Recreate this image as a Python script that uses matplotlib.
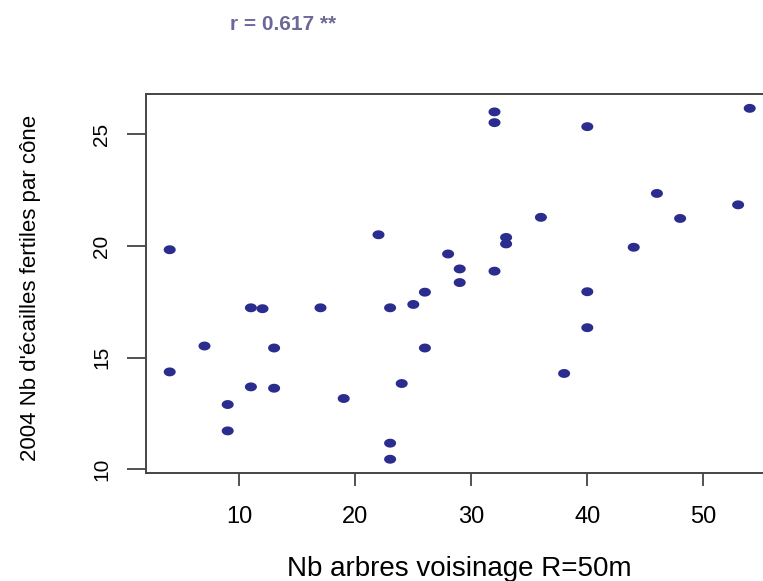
import matplotlib.pyplot as plt
import numpy as np
from matplotlib.path import Path

plt.rcParams['font.family'] = ['Liberation Sans', 'DejaVu Sans']

#%% DATA

nb_arbres = [4, 4, 7, 9, 9, 11, 11, 12, 13, 13, 17, 19, 22, 23, 23, 23, 24, 25, 26,
             26, 28, 29, 29, 32, 32, 32, 33, 33, 36, 38, 40, 40, 40, 44, 46, 48, 53, 54]
nb_ecailles = [19.83, 14.36, 15.52, 12.90, 11.72, 17.23, 13.69, 17.19, 15.43, 13.63,
               17.23, 13.17, 20.50, 17.23, 11.17, 10.45, 13.84, 17.38, 17.93, 15.43,
               19.64, 18.97, 18.36, 26.00, 25.52, 18.87, 20.38, 20.09, 21.28, 14.29,
               25.34, 17.95, 16.34, 19.94, 22.35, 21.23, 21.84, 26.16]
xticks = [10, 20, 30, 40, 50]
yticks = [10, 15, 20, 25]
r_text = "r = 0.617 **"

#%% PLOT

x = np.array(nb_arbres, dtype=float)
y = np.array(nb_ecailles)

# R style limits (4 % extension)
dx = 0.04 * (x.max() - x.min())
dy = 0.04 * (y.max() - y.min())

# slightly wide dot, like the stretched original
t = np.linspace(0, 2 * np.pi, 40)
dot = Path(np.column_stack([1.35 * np.cos(t), np.sin(t)]), closed=True)

fig = plt.figure(figsize=(7.63, 5.81), dpi=100)
ax = fig.add_axes([0.192, 0.1854, 0.821, 0.6523])
ax.scatter(x, y, s=75, marker=dot, color='#2a2c8e', edgecolors='none', zorder=3)

ax.set_xlim(x.min() - dx, x.max() + dx)
ax.set_ylim(y.min() - dy, y.max() + dy)
ax.set_xticks(xticks)
ax.set_yticks(yticks)

for sp in ax.spines.values():
    sp.set_color('#444444')
    sp.set_linewidth(1.4)

ax.tick_params(axis='x', length=9.4, width=1.2, color='#333333', pad=14, labelsize=17)
ax.tick_params(axis='y', length=13.5, width=1.2, color='#333333', pad=12, labelsize=15)
for lab in ax.get_yticklabels():
    lab.set_rotation(90)
    lab.set_va('center')

ax.set_xlabel("Nb arbres voisinage R=50m", fontsize=20, va='top')
ax.xaxis.set_label_coords(0.5, -0.218)
ax.set_ylabel("2004 Nb d'écailles fertiles par cône", fontsize=16)
ax.yaxis.set_label_coords(-0.168, 0.49)

fig.text(230 / 763, 1 - 15 / 581, r_text, ha='left', va='top', fontsize=15,
         fontweight='bold', color='#6c6898')

plt.savefig('out.png', dpi=100)
